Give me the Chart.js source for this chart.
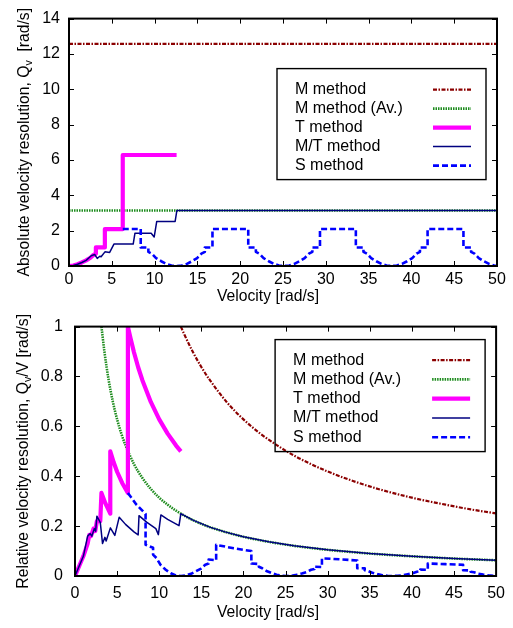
<!DOCTYPE html>
<html>
<head>
<meta charset="utf-8">
<script src="https://cdn.jsdelivr.net/npm/chart.js@4.4.1/dist/chart.umd.min.js"></script>
<style>
    html, body { margin: 0; padding: 0; background: #fff; }
    canvas { position: absolute; left: 0; }
    #absCanvas { top: 0; }
    #relCanvas { top: 305px; }
</style>
</head>
<body>
<canvas id="absCanvas" width="513" height="305"></canvas>
<canvas id="relCanvas" width="513" height="323"></canvas>
<script>
let seriesNames = ['M method', 'M method (Av.)', 'T method', 'M/T method', 'S method'];
let velocityTicks = [0, 5, 10, 15, 20, 25, 30, 35, 40, 45, 50];
let absTicks = [0, 2, 4, 6, 8, 10, 12, 14];
let relTicks = [0, 0.2, 0.4, 0.6, 0.8, 1];
let relTickLabels = ['0', '0.2', '0.4', '0.6', '0.8', '1'];

// absolute resolution Qv [rad/s], pairs of [velocity, Qv]
let absM = [[0, 12.57], [50, 12.57]];
let absMAv = [[0, 3.14], [50, 3.14]];
let absT = [[0, 0], [0.5, 0.03], [1, 0.1], [1.5, 0.2], [2, 0.32], [2.5, 0.47], [2.8, 0.6], [3.14, 0.7], [3.14, 1.05],
    [4.19, 1.05], [4.19, 2.09], [6.28, 2.09], [6.28, 6.28], [12.57, 6.28]];
let absMT = [[0, 0], [0.5, 0.03], [1, 0.1], [1.5, 0.2], [2, 0.32], [2.6, 0.58], [3.0, 0.65], [3.3, 0.43], [3.6, 0.55],
    [3.75, 0.52], [4.2, 0.8], [4.75, 0.77], [5.25, 1.24], [7.5, 1.24], [7.7, 1.85], [9.6, 1.85], [9.95, 1.64],
    [10.25, 2.52], [12.4, 2.52], [12.6, 3.14], [50, 3.14]];
let absS = [[6.28, 2.09], [8.38, 2.09], [8.38, 1.05], [9.27, 1.05], [9.27, 0.8], [9.67, 0.7], [10.17, 0.45],
    [10.77, 0.27], [11.37, 0.12], [11.97, 0.03], [12.57, 0], [13.17, 0.03], [13.77, 0.12], [14.37, 0.27],
    [14.97, 0.45], [15.47, 0.7], [15.87, 0.8], [15.87, 1.05], [16.76, 1.05], [16.76, 2.09], [20.94, 2.09],
    [20.94, 1.05], [21.83, 1.05], [21.83, 0.8], [22.23, 0.7], [22.73, 0.45], [23.33, 0.27], [23.93, 0.12],
    [24.53, 0.03], [25.13, 0], [25.73, 0.03], [26.33, 0.12], [26.93, 0.27], [27.53, 0.45], [28.03, 0.7],
    [28.43, 0.8], [28.43, 1.05], [29.32, 1.05], [29.32, 2.09], [33.51, 2.09], [33.51, 1.05], [34.4, 1.05],
    [34.4, 0.8], [34.8, 0.7], [35.3, 0.45], [35.9, 0.27], [36.5, 0.12], [37.1, 0.03], [37.7, 0], [38.3, 0.03],
    [38.9, 0.12], [39.5, 0.27], [40.1, 0.45], [40.6, 0.7], [41.0, 0.8], [41.0, 1.05], [41.89, 1.05], [41.89, 2.09],
    [46.08, 2.09], [46.08, 1.05], [46.97, 1.05], [46.97, 0.8], [47.37, 0.7], [47.87, 0.45], [48.47, 0.27],
    [49.07, 0.12], [49.67, 0.03], [50, 0.01]];

// relative resolution Qv/V, pairs of [velocity, Qv/V]
let relM = [[12.57, 1], [13, 0.967], [14, 0.898], [15, 0.838], [16, 0.786], [18, 0.698], [20, 0.628], [22, 0.571],
    [24, 0.524], [26, 0.483], [28, 0.449], [30, 0.419], [33, 0.381], [36, 0.349], [40, 0.314], [44, 0.286],
    [47, 0.267], [50, 0.251]];
let relMAv = [[3.14, 1], [3.5, 0.898], [4, 0.785], [4.5, 0.698], [5, 0.628], [5.5, 0.571], [6, 0.524], [7, 0.449],
    [8, 0.393], [9, 0.349], [10, 0.314], [11, 0.286], [12, 0.262], [14, 0.224], [16, 0.196], [18, 0.175],
    [20, 0.157], [23, 0.137], [26, 0.121], [30, 0.105], [35, 0.09], [40, 0.079], [45, 0.07], [50, 0.063]];
let relT = [[0, 0], [0.5, 0.04], [1, 0.08], [1.5, 0.13], [1.7, 0.165], [1.9, 0.16], [2.2, 0.19], [2.4, 0.18],
    [2.6, 0.22], [3.0, 0.22], [3.14, 0.333], [3.6, 0.292], [4.19, 0.25], [4.19, 0.5], [4.6, 0.455], [5, 0.418],
    [5.6, 0.373], [6.28, 0.333], [6.28, 1], [6.6, 0.952], [7, 0.897], [7.5, 0.837], [8, 0.785], [9, 0.698],
    [10, 0.628], [11, 0.571], [12, 0.523], [12.57, 0.5]];
let relMT = [[0, 0], [0.5, 0.04], [1, 0.08], [1.5, 0.16], [1.8, 0.17], [2.0, 0.16], [2.3, 0.19], [2.45, 0.18],
    [2.6, 0.24], [3.0, 0.215], [3.27, 0.13], [3.55, 0.155], [3.7, 0.14], [4.2, 0.193], [4.73, 0.163], [5.25, 0.236],
    [6, 0.207], [7, 0.177], [7.5, 0.165], [7.6, 0.242], [8.5, 0.216], [9.6, 0.19], [9.9, 0.166], [10.2, 0.245],
    [11, 0.227], [12.35, 0.202], [12.57, 0.25], [14, 0.224], [16, 0.196], [18, 0.175], [20, 0.157], [23, 0.137],
    [26, 0.121], [30, 0.105], [35, 0.09], [40, 0.079], [45, 0.07], [50, 0.063]];
let relS = [[6.28, 0.333], [7.3, 0.286], [8.38, 0.249], [8.38, 0.125], [9.27, 0.113], [9.27, 0.086], [9.67, 0.072],
    [10.17, 0.044], [10.77, 0.025], [11.37, 0.011], [11.97, 0.0025], [12.57, 0], [13.17, 0.0023], [13.77, 0.0087],
    [14.37, 0.019], [14.97, 0.03], [15.47, 0.045], [15.87, 0.05], [15.87, 0.066], [16.76, 0.063], [16.76, 0.125],
    [18.85, 0.111], [20.94, 0.1], [20.94, 0.05], [21.83, 0.048], [21.83, 0.037], [22.23, 0.031], [22.73, 0.02],
    [23.33, 0.012], [23.93, 0.005], [24.53, 0.001], [25.13, 0], [25.73, 0.001], [26.33, 0.005], [26.93, 0.01],
    [27.53, 0.016], [28.03, 0.025], [28.43, 0.028], [28.43, 0.037], [29.32, 0.036], [29.32, 0.071], [31.4, 0.067],
    [33.51, 0.062], [33.51, 0.031], [34.4, 0.031], [34.4, 0.023], [34.8, 0.02], [35.3, 0.013], [35.9, 0.0075],
    [36.5, 0.0033], [37.1, 0.0008], [37.7, 0], [38.3, 0.0008], [38.9, 0.003], [39.5, 0.0068], [40.1, 0.011],
    [40.6, 0.017], [41.0, 0.0195], [41.0, 0.0256], [41.89, 0.025], [41.89, 0.05], [44, 0.0475], [46.08, 0.045],
    [46.08, 0.0228], [46.97, 0.0224], [46.97, 0.017], [47.37, 0.0148], [47.87, 0.0094], [48.47, 0.0056],
    [49.07, 0.0024], [49.67, 0.0006], [50, 0.0002]];

const FONT = '"Liberation Sans", Arial, Helvetica, sans-serif';

function lineSet(name, points, style) {
    return Object.assign({
        label: name,
        data: points.map(p => ({x: p[0], y: p[1]})),
        pointRadius: 0,
        tension: 0,
        fill: false,
        borderJoinStyle: 'round',
        borderDash: []
    }, style);
}

let styles = [
    {borderColor: '#8b0000', borderWidth: 2.2, borderDash: [4, 1.5, 1.5, 1.5], order: 4},
    {borderColor: '#1e8c1e', borderWidth: 2.6, borderDash: [1.5, 1], order: 3},
    {borderColor: '#ff00ff', borderWidth: 4.2, order: 2},
    {borderColor: '#000080', borderWidth: 1.5, order: 1},
    {borderColor: '#0000ff', borderWidth: 2.6, borderDash: [6, 3], order: 0}
];

// draws text made of pieces, some of them subscripts, centred on (0,0)
function drawPieces(ctx, pieces) {
    let main = '15.7px ' + FONT, small = '10.5px ' + FONT;
    let total = 0;
    pieces.forEach(p => {
        ctx.font = p.sub ? small : main;
        total += ctx.measureText(p.t).width;
    });
    let x = -total / 2;
    ctx.textAlign = 'left';
    ctx.textBaseline = 'middle';
    pieces.forEach(p => {
        ctx.font = p.sub ? small : main;
        ctx.fillText(p.t, x, p.sub ? 4 : 0);
        x += ctx.measureText(p.t).width;
    });
}

const framePlugin = {
    id: 'frame',
    afterDatasetsDraw(chart, args, o) {
        let ctx = chart.ctx, a = chart.chartArea;
        let xs = chart.scales.x, ys = chart.scales.y;
        ctx.save();
        ctx.strokeStyle = '#000';
        ctx.lineWidth = 1;
        ctx.beginPath();
        xs.ticks.forEach(t => {
            let p = Math.round(xs.getPixelForValue(t.value)) + 0.5;
            ctx.moveTo(p, a.bottom); ctx.lineTo(p, a.bottom - 5);
            ctx.moveTo(p, a.top); ctx.lineTo(p, a.top + 5);
        });
        ys.ticks.forEach(t => {
            let p = Math.round(ys.getPixelForValue(t.value)) + 0.5;
            ctx.moveTo(a.left, p); ctx.lineTo(a.left + 5, p);
            ctx.moveTo(a.right, p); ctx.lineTo(a.right - 5, p);
        });
        ctx.stroke();
        ctx.lineWidth = 2;
        ctx.strokeRect(a.left, a.top, a.right - a.left, a.bottom - a.top);

        // key box
        let kx = a.right - o.keyRight - o.keyWidth, ky = a.top + o.keyTop;
        ctx.lineWidth = 1.4;
        ctx.strokeRect(kx, ky, o.keyWidth, o.keyHeight);
        ctx.font = '16px ' + FONT;
        ctx.fillStyle = '#000';
        ctx.textAlign = 'left';
        ctx.textBaseline = 'middle';
        chart.data.datasets.forEach((ds, i) => {
            let yy = ky + o.firstRow + i * o.rowGap;
            ctx.fillText(ds.label, kx + 18, yy);
            ctx.save();
            ctx.strokeStyle = ds.borderColor;
            ctx.lineWidth = ds.borderWidth;
            ctx.setLineDash(ds.borderDash || []);
            ctx.beginPath();
            ctx.moveTo(kx + o.keyWidth - 53, yy);
            ctx.lineTo(kx + o.keyWidth - 15, yy);
            ctx.stroke();
            ctx.restore();
        });

        // axis titles
        ctx.fillStyle = '#000';
        ctx.save();
        ctx.translate(o.xTitleX, o.xTitleY);
        drawPieces(ctx, [{t: 'Velocity [rad/s]'}]);
        ctx.restore();
        ctx.save();
        ctx.translate(o.yTitleX, (a.top + a.bottom) / 2);
        ctx.rotate(-Math.PI / 2);
        drawPieces(ctx, o.yTitle);
        ctx.restore();
        ctx.restore();
    }
};

function makeChart(canvas, sets, yTicks, yLabels, yMax, geo) {
    return new Chart(canvas, {
        type: 'line',
        data: {datasets: sets},
        plugins: [framePlugin],
        options: {
            responsive: false,
            animation: false,
            events: [],
            layout: {padding: {top: geo.top, right: geo.right, left: 0, bottom: 0}},
            plugins: {
                legend: {display: false},
                tooltip: {enabled: false},
                frame: geo.frame
            },
            scales: {
                x: {
                    type: 'linear', min: 0, max: 50,
                    afterBuildTicks: s => { s.ticks = velocityTicks.map(v => ({value: v})); },
                    afterFit: s => { s.height = geo.xHeight; },
                    ticks: {color: '#000', font: {family: FONT, size: 16}, padding: geo.xPad, maxRotation: 0, autoSkip: false},
                    grid: {display: false, drawTicks: false},
                    border: {display: false}
                },
                y: {
                    type: 'linear', min: 0, max: yMax,
                    afterBuildTicks: s => { s.ticks = yTicks.map(v => ({value: v})); },
                    afterFit: s => { s.width = geo.yWidth; },
                    ticks: {
                        color: '#000', font: {family: FONT, size: 16}, padding: geo.yPad, autoSkip: false,
                        callback: (v, i) => yLabels[i]
                    },
                    grid: {display: false, drawTicks: false},
                    border: {display: false}
                }
            }
        }
    });
}

let absSets = [absM, absMAv, absT, absMT, absS].map((d, i) => lineSet(seriesNames[i], d, styles[i]));
let relSets = [relM, relMAv, relT, relMT, relS].map((d, i) => lineSet(seriesNames[i], d, styles[i]));
relSets[0].cubicInterpolationMode = 'monotone';
relSets[1].cubicInterpolationMode = 'monotone';

makeChart(document.getElementById('absCanvas'), absSets, absTicks, absTicks.map(String), 14, {
    top: 15, right: 16, xHeight: 39, yWidth: 69, xPad: 4, yPad: 9,
    frame: {
        keyRight: 11, keyTop: 50, keyWidth: 209, keyHeight: 111, firstRow: 21, rowGap: 19,
        xTitleX: 268, xTitleY: 297, yTitleX: 25,
        yTitle: [{t: 'Absolute velocity resolution, Q'}, {t: 'v', sub: true}, {t: '  [rad/s]'}]
    }
});

makeChart(document.getElementById('relCanvas'), relSets, relTicks, relTickLabels, 1, {
    top: 19, right: 15.5, xHeight: 52, yWidth: 75, xPad: 8, yPad: 12,
    frame: {
        keyRight: 11, keyTop: 13, keyWidth: 210, keyHeight: 112, firstRow: 20.5, rowGap: 19.3,
        xTitleX: 268, xTitleY: 308, yTitleX: 24,
        yTitle: [{t: 'Relative velocity resolution, Q'}, {t: 'v', sub: true}, {t: '/V [rad/s]'}]
    }
});
</script>
</body>
</html>
